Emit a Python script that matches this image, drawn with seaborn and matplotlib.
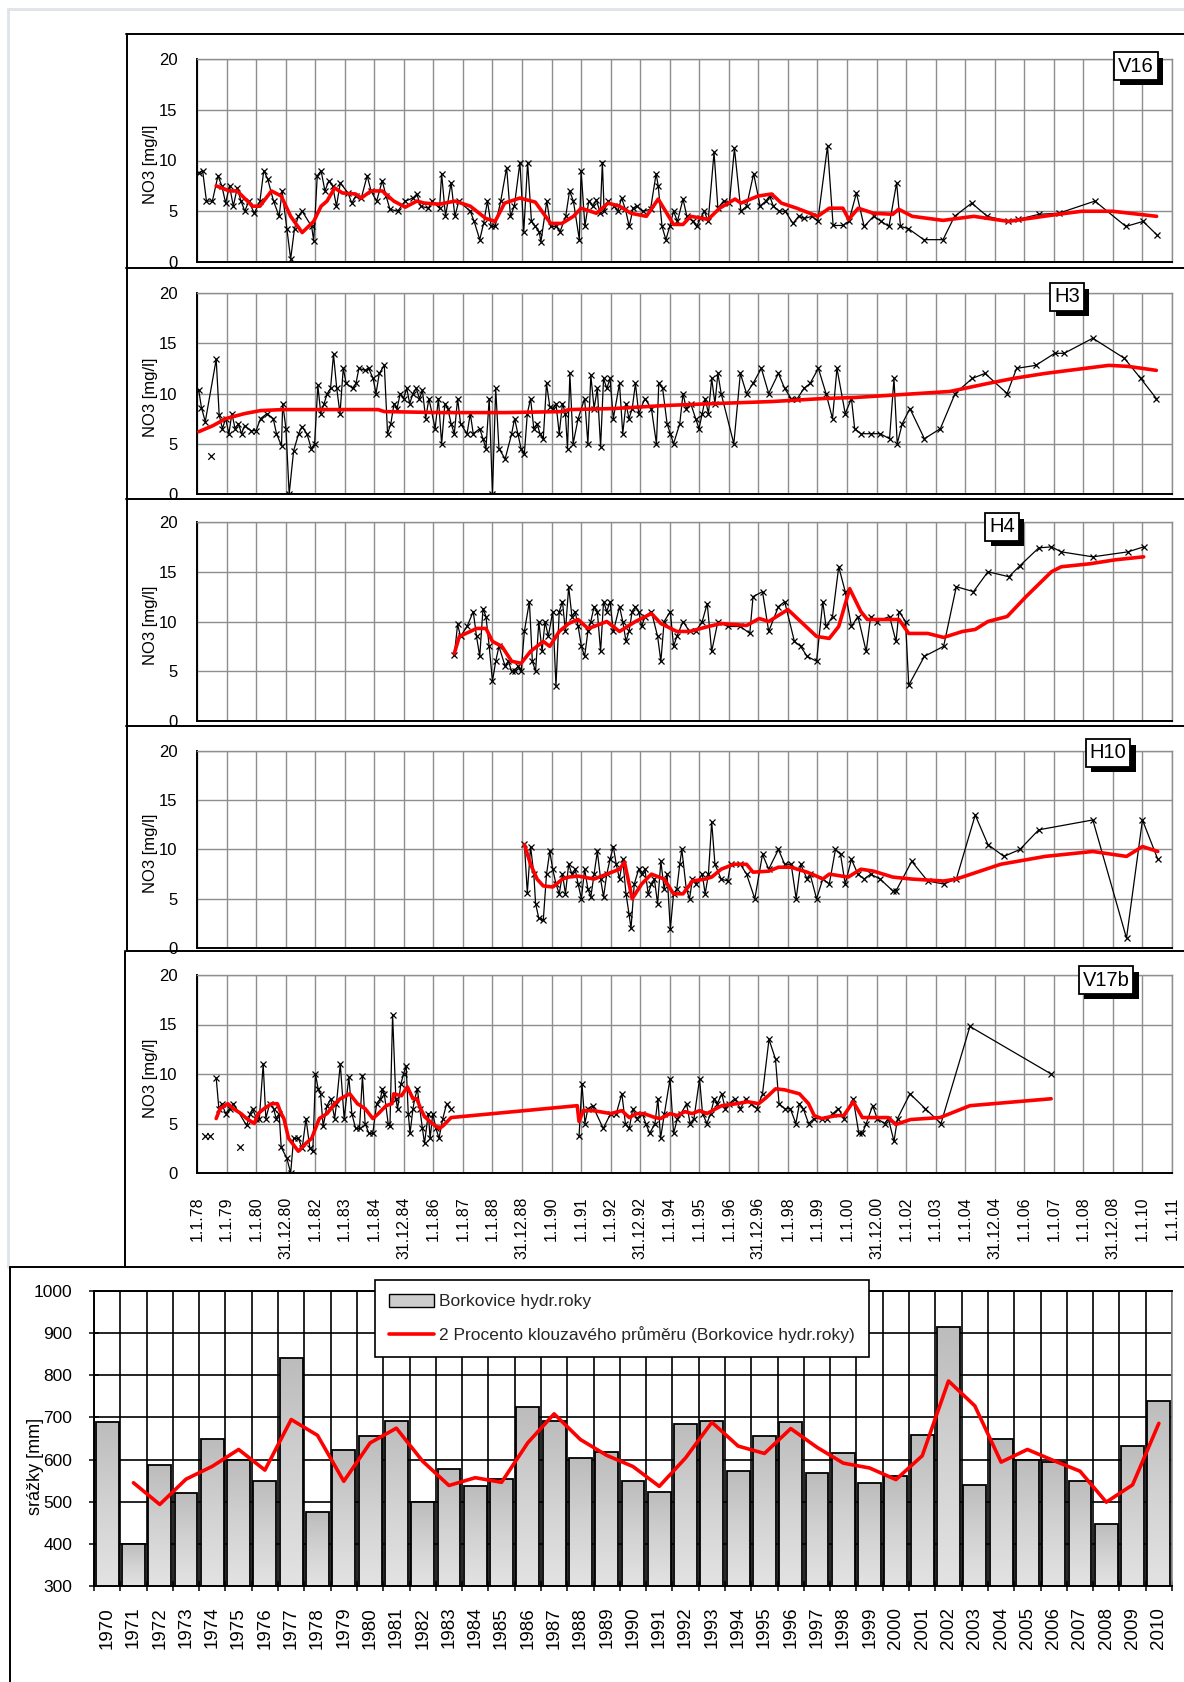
import numpy as np
import matplotlib
matplotlib.use("Agg")
import matplotlib.pyplot as plt
import seaborn as sns
from matplotlib.lines import Line2D
from matplotlib.patches import Patch
from matplotlib.colors import LinearSegmentedColormap
import matplotlib.patheffects as pe

# ---------------- data ----------------
tick_years = list(range(1978, 2012))
date_labels = ["1.1.78", "1.1.79", "1.1.80", "31.12.80", "1.1.82", "1.1.83", "1.1.84", "31.12.84",
               "1.1.86", "1.1.87", "1.1.88", "31.12.88", "1.1.90", "1.1.91", "1.1.92", "31.12.92",
               "1.1.94", "1.1.95", "1.1.96", "31.12.96", "1.1.98", "1.1.99", "1.1.00", "31.12.00",
               "1.1.02", "1.1.03", "1.1.04", "31.12.04", "1.1.06", "1.1.07", "1.1.08", "31.12.08",
               "1.1.10", "1.1.11"]

v16_t = [1978.06, 1978.19, 1978.32, 1978.52, 1978.71, 1978.84, 1978.97, 1979.10, 1979.23, 1979.36,
         1979.49, 1979.62, 1979.75, 1979.94, 1980.13, 1980.26, 1980.39, 1980.59, 1980.78, 1980.88,
         1981.04, 1981.17, 1981.30, 1981.43, 1981.56, 1981.88, 1981.95, 1982.07, 1982.20, 1982.33,
         1982.46, 1982.59, 1982.72, 1982.85, 1983.11, 1983.24, 1983.37, 1983.56, 1983.76, 1983.89,
         1984.08, 1984.27, 1984.40, 1984.53, 1984.79, 1985.05, 1985.31, 1985.44, 1985.57, 1985.83,
         1985.96, 1986.21, 1986.28, 1986.41, 1986.60, 1986.73, 1986.86, 1987.25, 1987.38, 1987.57,
         1987.70, 1987.83, 1987.96, 1988.09, 1988.28, 1988.48, 1988.61, 1988.74, 1988.93, 1989.06,
         1989.19, 1989.32, 1989.45, 1989.58, 1989.64, 1989.84, 1989.97, 1990.16, 1990.29, 1990.48,
         1990.61, 1990.74, 1990.94, 1991.00, 1991.13, 1991.26, 1991.39, 1991.52, 1991.65, 1991.72,
         1991.78, 1991.91, 1992.11, 1992.24, 1992.37, 1992.50, 1992.63, 1992.76, 1992.89, 1993.08,
         1993.35, 1993.54, 1993.61, 1993.74, 1993.87, 1994.00, 1994.13, 1994.26, 1994.45, 1994.58,
         1994.78, 1994.91, 1995.04, 1995.17, 1995.30, 1995.50, 1995.63, 1995.82, 1996.02, 1996.19,
         1996.41, 1996.60, 1996.84, 1997.06, 1997.25, 1997.38, 1997.51, 1997.71, 1997.91, 1998.17,
         1998.36, 1998.56, 1998.82, 1999.01, 1999.34, 1999.53, 1999.86, 2000.06, 2000.32, 2000.58,
         2000.90, 2001.16, 2001.42, 2001.68, 2001.81, 2002.07, 2002.60, 2003.25, 2003.64, 2004.22,
         2004.75, 2005.46, 2005.79, 2006.50, 2007.16, 2008.39, 2009.44, 2010.02, 2010.48]
v16_no3 = [8.8, 9.0, 6.0, 6.0, 8.5, 7.5, 5.8, 7.5, 5.5, 7.3,
           6.0, 5.0, 6.0, 4.8, 6.0, 9.0, 8.2, 6.0, 4.5, 7.0,
           3.3, 0.3, 3.3, 4.5, 5.0, 3.5, 2.1, 8.5, 9.0, 7.0,
           8.0, 7.5, 5.5, 7.8, 6.8, 5.8, 6.5, 6.3, 8.5, 7.0,
           6.0, 8.0, 6.5, 5.2, 5.0, 6.0, 6.3, 6.7, 5.5, 5.3,
           6.0, 5.3, 8.7, 4.5, 7.8, 4.5, 6.0, 5.0, 4.0, 2.2,
           3.8, 6.0, 3.5, 3.5, 6.0, 9.3, 4.5, 5.5, 9.8, 3.0,
           9.8, 4.0, 3.5, 3.0, 2.0, 6.0, 3.5, 3.5, 3.0, 4.5,
           7.0, 6.0, 2.2, 9.0, 3.5, 6.0, 5.5, 6.1, 4.8, 9.8,
           5.0, 6.0, 5.5, 5.0, 6.3, 5.2, 3.5, 5.3, 5.5, 5.0,
           5.2, 8.7, 7.5, 3.5, 2.2, 3.5, 5.0, 4.0, 6.2, 4.5,
           4.0, 3.5, 4.3, 5.0, 4.0, 10.8, 5.3, 6.0, 5.8, 11.2,
           5.0, 5.5, 8.7, 5.5, 6.0, 6.5, 5.5, 5.0, 5.0, 3.8,
           4.5, 4.3, 4.5, 4.0, 11.4, 3.6, 3.6, 4.0, 6.8, 3.5,
           4.5, 4.0, 3.5, 7.8, 3.5, 3.3, 2.2, 2.2, 4.5, 5.8,
           4.5, 4.0, 4.2, 4.7, 4.8, 6.0, 3.5, 4.0, 2.7]
v16_avg_t = [1978.65, 1979.10, 1979.36, 1979.88, 1980.13, 1980.52, 1980.85, 1981.17, 1981.56, 1981.95,
             1982.20, 1982.40, 1982.66, 1982.92, 1983.37, 1983.56, 1983.89, 1984.27, 1984.66, 1985.05,
             1985.44, 1985.70, 1986.21, 1986.73, 1987.25, 1987.77, 1988.09, 1988.41, 1988.93, 1989.45,
             1989.97, 1990.35, 1990.74, 1991.00, 1991.52, 1991.91, 1992.30, 1992.69, 1993.21, 1993.61,
             1994.13, 1994.45, 1994.71, 1995.30, 1995.69, 1996.21, 1996.41, 1996.99, 1997.45, 1997.78,
             1998.30, 1999.01, 1999.40, 1999.86, 2000.06, 2000.38, 2000.90, 2001.55, 2001.75, 2002.21,
             2003.25, 2004.29, 2005.46, 2006.90, 2007.94, 2008.98, 2010.48]
v16_avg = [7.5, 7.0, 7.0, 5.5, 5.5, 7.0, 6.5, 4.5, 2.9, 4.0,
           5.5, 6.0, 7.3, 6.8, 6.7, 6.3, 7.0, 7.0, 6.0, 5.4,
           6.0, 5.8, 5.7, 6.0, 5.5, 4.3, 4.0, 5.8, 6.3, 5.9,
           3.8, 3.8, 4.5, 5.3, 4.8, 5.8, 5.5, 4.8, 4.5, 6.2,
           3.7, 3.7, 4.5, 4.2, 5.3, 6.2, 5.8, 6.5, 6.7, 5.8,
           5.3, 4.5, 5.3, 5.3, 4.2, 5.3, 4.8, 4.7, 5.2, 4.5,
           4.1, 4.5, 4.0, 4.6, 5.0, 5.0, 4.5]

h3_t = [1978.06, 1978.15, 1978.28, 1978.65, 1978.75, 1978.86, 1978.97, 1979.08, 1979.18, 1979.29,
        1979.40, 1979.51, 1979.61, 1979.83, 1980.00, 1980.15, 1980.37, 1980.58, 1980.69, 1980.86,
        1980.90, 1981.01, 1981.12, 1981.27, 1981.44, 1981.55, 1981.72, 1981.87, 1981.98, 1982.09,
        1982.19, 1982.30, 1982.41, 1982.52, 1982.62, 1982.73, 1982.84, 1982.95, 1983.05, 1983.27,
        1983.38, 1983.48, 1983.70, 1983.81, 1983.96, 1984.06, 1984.17, 1984.34, 1984.45, 1984.56,
        1984.67, 1984.77, 1984.88, 1984.99, 1985.10, 1985.20, 1985.31, 1985.42, 1985.53, 1985.63,
        1985.74, 1985.85, 1986.06, 1986.17, 1986.28, 1986.39, 1986.49, 1986.60, 1986.71, 1986.82,
        1986.92, 1987.14, 1987.25, 1987.35, 1987.57, 1987.68, 1987.78, 1987.89, 1988.00, 1988.11,
        1988.22, 1988.43, 1988.65, 1988.75, 1988.86, 1988.97, 1989.08, 1989.18, 1989.29, 1989.40,
        1989.51, 1989.61, 1989.72, 1989.83, 1989.94, 1990.04, 1990.15, 1990.26, 1990.37, 1990.47,
        1990.54, 1990.62, 1990.73, 1990.90, 1991.12, 1991.23, 1991.33, 1991.44, 1991.55, 1991.66,
        1991.76, 1991.87, 1991.98, 1992.09, 1992.30, 1992.41, 1992.52, 1992.62, 1992.73, 1992.84,
        1992.95, 1993.16, 1993.38, 1993.55, 1993.63, 1993.76, 1993.91, 1994.02, 1994.13, 1994.34,
        1994.45, 1994.56, 1994.71, 1994.88, 1994.99, 1995.10, 1995.20, 1995.31, 1995.42, 1995.53,
        1995.63, 1995.74, 1996.17, 1996.39, 1996.60, 1996.82, 1997.10, 1997.35, 1997.68, 1997.89,
        1998.11, 1998.32, 1998.54, 1998.75, 1999.03, 1999.29, 1999.51, 1999.66, 1999.94, 2000.15,
        2000.26, 2000.47, 2000.80, 2001.12, 2001.44, 2001.59, 2001.70, 2001.87, 2002.13, 2002.62,
        2003.16, 2003.66, 2004.24, 2004.67, 2005.42, 2005.74, 2006.39, 2007.03, 2007.35, 2008.32,
        2009.39, 2009.94, 2010.47]
h3_no3 = [10.3, 8.6, 7.2, 13.4, 7.9, 6.5, 7.5, 6.0, 8.0, 6.5,
          7.0, 6.0, 6.8, 6.3, 6.3, 7.5, 8.0, 7.5, 6.0, 4.8,
          9.0, 6.5, 0.0, 4.3, 6.0, 6.7, 6.0, 4.5, 5.0, 10.8,
          8.0, 9.0, 10.0, 10.5, 13.9, 10.5, 8.0, 12.5, 11.0, 10.5,
          11.0, 12.5, 12.3, 12.5, 11.5, 10.0, 12.0, 12.8, 6.0, 7.0,
          9.0, 8.5, 10.0, 9.5, 10.5, 9.0, 10.0, 10.5, 9.5, 10.3,
          7.5, 9.5, 6.5, 9.5, 5.0, 9.0, 8.5, 7.0, 6.0, 9.5,
          7.0, 6.0, 8.0, 6.0, 6.5, 5.5, 4.5, 9.5, 0.0, 10.5,
          4.5, 3.5, 6.0, 7.5, 6.0, 4.5, 4.0, 8.0, 9.5, 6.5,
          7.0, 6.0, 5.5, 11.0, 8.7, 8.5, 9.0, 6.0, 9.0, 8.0,
          4.5, 12.0, 5.0, 7.5, 9.5, 5.0, 11.8, 8.5, 10.5, 4.7,
          11.5, 10.5, 11.5, 7.5, 11.0, 6.0, 9.0, 7.5, 8.5, 11.0,
          8.0, 9.5, 8.5, 5.0, 11.0, 10.5, 7.0, 6.0, 5.0, 7.0,
          10.0, 8.5, 9.0, 7.5, 6.5, 8.0, 9.5, 8.0, 11.5, 9.0,
          12.0, 10.0, 5.0, 12.0, 10.0, 11.0, 12.5, 10.0, 12.0, 10.5,
          9.5, 9.5, 10.5, 11.0, 12.5, 10.0, 7.5, 12.5, 8.0, 9.5,
          6.5, 6.0, 6.0, 6.0, 5.5, 11.5, 5.0, 7.0, 8.5, 5.5,
          6.5, 10.0, 11.5, 12.0, 10.0, 12.5, 12.8, 14.0, 14.0, 15.5,
          13.5, 11.5, 9.5]
h3_single_t = [1978.49]
h3_single = [3.8]
h3_avg_t = [1978.06, 1978.54, 1978.97, 1979.61, 1980.15, 1980.90, 1981.98, 1984.13, 1984.34, 1986.28,
            1988.43, 1990.37, 1990.58, 1992.09, 1993.81, 1995.53, 1997.46, 1999.18, 2000.26, 2001.34,
            2003.48, 2004.77, 2005.63, 2006.71, 2007.78, 2008.86, 2009.51, 2010.47]
h3_avg = [6.2, 6.8, 7.5, 8.0, 8.3, 8.4, 8.4, 8.4, 8.2, 8.1,
          8.1, 8.2, 8.4, 8.5, 8.8, 9.0, 9.2, 9.5, 9.6, 9.8,
          10.2, 11.0, 11.5, 12.0, 12.4, 12.8, 12.7, 12.3]

h4_t = [1986.71, 1986.82, 1986.92, 1987.14, 1987.35, 1987.46, 1987.57, 1987.68, 1987.78, 1987.89,
        1988.00, 1988.11, 1988.22, 1988.43, 1988.54, 1988.65, 1988.75, 1988.86, 1988.97, 1989.08,
        1989.25, 1989.35, 1989.46, 1989.57, 1989.68, 1989.78, 1989.89, 1990.04, 1990.15, 1990.26,
        1990.37, 1990.47, 1990.58, 1990.69, 1990.80, 1990.90, 1991.01, 1991.12, 1991.23, 1991.33,
        1991.44, 1991.55, 1991.66, 1991.76, 1991.87, 1991.98, 1992.09, 1992.30, 1992.41, 1992.52,
        1992.62, 1992.73, 1992.84, 1992.95, 1993.05, 1993.16, 1993.38, 1993.59, 1993.70, 1993.81,
        1994.02, 1994.13, 1994.24, 1994.45, 1994.67, 1994.88, 1995.10, 1995.27, 1995.42, 1995.63,
        1995.96, 1996.39, 1996.71, 1996.82, 1997.14, 1997.35, 1997.68, 1997.89, 1998.22, 1998.43,
        1998.65, 1998.97, 1999.18, 1999.29, 1999.51, 1999.72, 1999.94, 2000.15, 2000.37, 2000.65,
        2000.80, 2001.01, 2001.44, 2001.66, 2001.76, 2001.98, 2002.09, 2002.62, 2003.27, 2003.70,
        2004.28, 2004.77, 2005.48, 2005.85, 2006.49, 2006.92, 2007.25, 2008.32, 2009.51, 2010.04]
h4_no3 = [6.6, 9.7, 8.5, 9.5, 11.0, 8.5, 6.5, 11.3, 10.5, 7.5,
          4.0, 6.0, 7.5, 5.5, 6.0, 5.0, 5.0, 5.5, 5.0, 9.0,
          12.0, 6.0, 5.0, 10.0, 7.0, 10.0, 8.5, 11.0, 3.5, 11.0,
          12.0, 9.0, 13.5, 10.5, 11.0, 9.5, 7.5, 6.5, 9.0, 10.0,
          11.5, 11.0, 7.0, 12.0, 11.0, 12.0, 9.0, 11.5, 10.0, 8.0,
          9.0, 11.0, 11.5, 11.0, 9.5, 10.5, 11.0, 8.5, 6.0, 10.0,
          11.0, 7.5, 8.5, 10.0, 9.0, 9.0, 10.0, 11.8, 7.0, 10.0,
          9.5, 9.5, 8.8, 12.5, 13.0, 9.0, 11.5, 12.0, 8.0, 7.5,
          6.5, 6.0, 12.0, 9.5, 10.5, 15.5, 13.0, 9.5, 10.5, 7.0,
          10.5, 10.0, 10.5, 8.0, 11.0, 10.0, 3.6, 6.5, 7.5, 13.5,
          13.0, 15.0, 14.5, 15.6, 17.4, 17.5, 17.0, 16.5, 17.0, 17.5]
h4_avg_t = [1986.71, 1986.88, 1987.25, 1987.46, 1987.78, 1988.00, 1988.32, 1988.65, 1988.97, 1989.29,
            1989.72, 1989.94, 1990.26, 1990.58, 1990.90, 1991.23, 1991.44, 1991.87, 1992.30, 1992.84,
            1993.38, 1993.70, 1994.24, 1994.67, 1995.31, 1995.74, 1996.60, 1997.03, 1997.35, 1998.00,
            1998.43, 1998.97, 1999.40, 1999.72, 2000.09, 2000.47, 2000.69, 2001.76, 2002.09, 2002.73,
            2003.27, 2003.91, 2004.34, 2004.77, 2005.42, 2006.06, 2006.92, 2007.25, 2008.22, 2009.08,
            2010.04]
h4_avg = [6.8, 8.5, 9.0, 9.3, 9.3, 8.0, 7.5, 6.0, 5.8, 7.0,
          8.0, 7.5, 9.0, 9.8, 10.2, 9.3, 9.5, 10.0, 9.0, 10.0,
          10.8, 9.8, 9.0, 9.0, 9.5, 9.8, 9.6, 10.3, 10.0, 11.2,
          10.0, 8.5, 8.3, 9.5, 13.3, 11.0, 10.2, 10.2, 8.8, 8.8,
          8.4, 9.0, 9.2, 10.0, 10.5, 12.5, 15.0, 15.5, 15.8, 16.2,
          16.5]

h10_t = [1989.08, 1989.18, 1989.29, 1989.40, 1989.46, 1989.57, 1989.72, 1989.83, 1989.94, 1990.04,
         1990.15, 1990.26, 1990.37, 1990.47, 1990.58, 1990.69, 1990.80, 1990.90, 1991.01, 1991.12,
         1991.23, 1991.33, 1991.44, 1991.55, 1991.66, 1991.76, 1991.87, 1991.98, 1992.09, 1992.19,
         1992.30, 1992.41, 1992.52, 1992.62, 1992.69, 1992.80, 1992.95, 1993.05, 1993.16, 1993.27,
         1993.38, 1993.48, 1993.59, 1993.70, 1993.81, 1993.91, 1994.02, 1994.13, 1994.24, 1994.34,
         1994.41, 1994.56, 1994.67, 1994.77, 1994.88, 1995.10, 1995.20, 1995.31, 1995.42, 1995.53,
         1995.74, 1995.96, 1996.06, 1996.39, 1996.60, 1996.88, 1997.14, 1997.35, 1997.68, 1997.89,
         1998.11, 1998.28, 1998.43, 1998.65, 1998.75, 1998.97, 1999.18, 1999.40, 1999.61, 1999.78,
         1999.94, 2000.15, 2000.37, 2000.58, 2000.80, 2001.12, 2001.55, 2001.66, 2002.19, 2002.73,
         2003.27, 2003.70, 2004.34, 2004.77, 2005.31, 2005.85, 2006.49, 2008.32, 2009.46, 2010.00,
         2010.52]
h10_no3 = [10.6, 5.6, 10.3, 7.5, 4.5, 3.0, 2.8, 7.5, 9.8, 8.0,
           6.5, 5.5, 7.5, 5.5, 8.5, 7.5, 8.0, 6.5, 5.0, 8.0,
           6.0, 5.2, 7.5, 9.8, 7.0, 5.2, 7.5, 9.0, 10.3, 8.5,
           7.0, 9.0, 5.5, 3.5, 2.0, 6.5, 8.0, 7.5, 8.0, 5.5,
           6.5, 7.0, 4.5, 8.8, 6.0, 7.5, 1.9, 5.5, 6.0, 8.5,
           10.0, 6.0, 5.0, 7.0, 6.5, 7.5, 5.5, 7.5, 12.8, 8.5,
           7.0, 6.8, 8.5, 8.5, 7.5, 5.0, 9.5, 8.0, 10.0, 8.5,
           8.5, 5.0, 8.5, 7.0, 7.5, 5.0, 7.0, 6.5, 10.0, 9.5,
           6.5, 9.0, 7.5, 7.0, 7.5, 7.0, 5.8, 5.8, 8.8, 6.8,
           6.5, 7.0, 13.5, 10.5, 9.3, 10.0, 12.0, 13.0, 1.0, 13.0,
           9.0]
h10_avg_t = [1989.08, 1989.29, 1989.51, 1989.72, 1990.04, 1990.37, 1990.58, 1990.90, 1991.44, 1991.87,
             1992.30, 1992.47, 1992.73, 1993.05, 1993.38, 1993.81, 1994.13, 1994.45, 1994.77, 1995.20,
             1995.42, 1995.74, 1996.17, 1996.60, 1996.82, 1997.35, 1997.68, 1998.11, 1998.32, 1998.65,
             1998.97, 1999.18, 1999.40, 2000.04, 2000.47, 2000.90, 2001.55, 2002.19, 2003.27, 2003.70,
             2005.20, 2006.71, 2008.32, 2009.46, 2010.00, 2010.52]
h10_avg = [10.5, 8.5, 7.0, 6.3, 6.2, 7.0, 7.2, 7.3, 7.0, 7.5,
           8.0, 8.7, 5.0, 6.5, 7.5, 7.0, 5.5, 5.5, 6.8, 7.0,
           7.2, 8.0, 8.5, 8.5, 7.7, 7.8, 8.2, 8.2, 8.0, 7.7,
           7.3, 7.0, 7.5, 7.2, 8.0, 7.8, 7.2, 7.0, 6.8, 7.0,
           8.5, 9.3, 9.8, 9.3, 10.3, 9.8]

v17_t_a = [1978.65, 1978.74, 1978.84, 1978.97, 1979.10, 1979.23, 1979.68, 1979.81, 1979.88, 1980.01,
           1980.11, 1980.24, 1980.33, 1980.46, 1980.59, 1980.68, 1980.78, 1980.85, 1981.04, 1981.17,
           1981.27, 1981.43, 1981.56, 1981.69, 1981.82, 1981.92, 1982.01, 1982.10, 1982.18, 1982.27,
           1982.40, 1982.53, 1982.66, 1982.72, 1982.85, 1982.98, 1983.14, 1983.24, 1983.37, 1983.50,
           1983.60, 1983.69, 1983.82, 1983.95, 1984.08, 1984.21, 1984.27, 1984.34, 1984.47, 1984.53,
           1984.62, 1984.73, 1984.79, 1984.90, 1984.99, 1985.08, 1985.15, 1985.21, 1985.31, 1985.37,
           1985.46, 1985.54, 1985.63, 1985.70, 1985.83, 1985.89, 1985.98, 1986.09, 1986.19, 1986.32,
           1986.45, 1986.58]
v17_no3_a = [9.6, 6.5, 7.0, 6.0, 6.5, 7.0, 4.8, 6.0, 6.5, 5.5,
             5.5, 11.0, 5.5, 7.0, 6.5, 5.5, 6.0, 2.6, 1.5, 0.0,
             3.5, 3.5, 2.5, 5.5, 2.5, 2.2, 10.0, 8.5, 8.0, 4.7,
             6.8, 7.5, 5.5, 7.0, 11.0, 5.5, 9.7, 6.0, 4.5, 4.5,
             9.8, 5.0, 4.0, 4.0, 7.0, 7.5, 8.5, 8.0, 5.0, 4.7,
             16.0, 7.5, 6.5, 9.0, 10.0, 10.8, 6.0, 4.0, 6.5, 7.5,
             8.5, 6.5, 4.5, 3.0, 6.0, 3.5, 6.0, 4.5, 3.5, 5.5,
             7.0, 6.5]
v17_t_b = [1990.93, 1991.03, 1991.13, 1991.23, 1991.39, 1991.75, 1992.00, 1992.19, 1992.38, 1992.50,
           1992.63, 1992.75, 1992.88, 1993.07, 1993.19, 1993.32, 1993.50, 1993.60, 1993.69, 1993.82,
           1994.01, 1994.13, 1994.26, 1994.38, 1994.57, 1994.69, 1994.82, 1995.01, 1995.11, 1995.26,
           1995.38, 1995.51, 1995.61, 1995.76, 1995.88, 1996.01, 1996.20, 1996.39, 1996.57, 1996.76,
           1996.95, 1997.14, 1997.36, 1997.58, 1997.70, 1997.89, 1998.08, 1998.27, 1998.39, 1998.52,
           1998.70, 1998.89, 1999.14, 1999.33, 1999.52, 1999.71, 1999.89, 2000.21, 2000.40, 2000.52,
           2000.65, 2000.87, 2001.02, 2001.27, 2001.40, 2001.59, 2001.71, 2002.13, 2002.65, 2003.18,
           2004.16, 2006.91]
v17_no3_b = [3.7, 9.0, 5.0, 6.5, 6.8, 4.5, 6.0, 6.0, 8.0, 5.0,
             4.5, 6.5, 5.5, 6.0, 5.0, 4.0, 5.0, 7.5, 3.5, 6.0,
             9.5, 4.0, 5.5, 6.0, 7.0, 5.0, 5.5, 9.5, 6.0, 5.0,
             6.0, 7.5, 7.0, 8.0, 6.5, 7.0, 7.5, 6.5, 7.5, 7.0,
             6.5, 8.0, 13.5, 11.5, 7.0, 6.5, 6.5, 5.0, 7.0, 6.5,
             5.0, 5.5, 5.5, 5.5, 6.0, 6.5, 5.5, 7.5, 4.0, 4.0,
             5.0, 6.8, 5.5, 5.0, 5.5, 3.2, 5.5, 8.0, 6.5, 5.0,
             14.8, 10.0]
v17_single_t = [1978.26, 1978.45, 1979.46]
v17_single = [3.7, 3.7, 2.6]
v17_avg_t = [1978.65, 1978.78, 1979.04, 1979.23, 1979.49, 1979.68, 1979.94, 1980.07, 1980.27, 1980.53,
             1980.72, 1980.85, 1980.94, 1981.10, 1981.43, 1981.69, 1981.88, 1982.01, 1982.14, 1982.40,
             1982.66, 1982.85, 1983.17, 1983.43, 1983.69, 1983.95, 1984.14, 1984.40, 1984.60, 1984.66,
             1984.92, 1985.12, 1985.31, 1985.44, 1985.57, 1985.70, 1985.96, 1986.21, 1986.34, 1986.60,
             1990.87, 1990.93, 1991.07, 1991.39, 1991.62, 1992.00, 1992.38, 1992.63, 1992.88, 1993.13,
             1993.50, 1993.69, 1994.01, 1994.26, 1994.51, 1994.76, 1995.01, 1995.26, 1995.63, 1995.76,
             1996.26, 1996.64, 1997.01, 1997.26, 1997.58, 1997.89, 1998.39, 1998.70, 1998.89, 1999.14,
             1999.64, 1999.89, 2000.21, 2000.52, 2001.40, 2001.65, 2002.15, 2003.15, 2004.16, 2006.91]
v17_avg = [5.5, 6.5, 7.0, 6.5, 6.0, 5.5, 5.0, 6.0, 6.5, 7.0,
           7.0, 6.0, 5.5, 3.5, 2.2, 3.0, 3.5, 4.5, 5.5, 6.0,
           7.0, 7.5, 8.0, 7.0, 6.5, 5.5, 6.0, 6.8, 7.0, 8.0,
           7.8, 8.7, 7.5, 7.5, 6.5, 5.7, 5.0, 4.5, 4.8, 5.6,
           6.8, 5.2, 6.3, 6.3, 6.2, 6.0, 6.3, 5.6, 6.0, 6.0,
           5.6, 5.5, 6.0, 5.8, 6.2, 6.0, 6.3, 6.0, 6.6, 6.8,
           7.0, 7.2, 7.0, 7.6, 8.5, 8.4, 8.0, 7.0, 5.8, 5.5,
           5.8, 5.8, 7.2, 5.6, 5.6, 4.9, 5.4, 5.6, 6.8, 7.5]

rain_years = list(range(1970, 2011))
rain_mm = [690, 400, 587, 520, 648, 600, 550, 840, 475, 622,
           657, 692, 500, 577, 537, 555, 725, 692, 603, 617,
           550, 523, 685, 692, 572, 657, 690, 568, 615, 545,
           560, 658, 915, 540, 648, 600, 595, 550, 448, 632,
           740]
ma_years = list(range(1971, 2011))
ma_mm = [545, 493.5, 553.5, 584, 624, 575, 695, 657.5, 548.5, 639.5,
         674.5, 596, 538.5, 557, 546, 640, 708.5, 647.5, 610, 583.5,
         536.5, 604, 688.5, 632, 614.5, 673.5, 629, 591.5, 580, 552.5,
         609, 786.5, 727.5, 594, 624, 597.5, 572.5, 499, 540, 686]

# ---------------- style ----------------
sns.set_theme(style="white")
plt.rcParams["font.family"] = ["Liberation Sans", "DejaVu Sans"]
plt.rcParams["axes.linewidth"] = 1.2

W, H = 1184, 1682
fig = plt.figure(figsize=(W / 100, H / 100), dpi=100)
fig.patch.set_facecolor("white")


def rect(l, t, r, b):
    return [l / W, 1 - b / H, (r - l) / W, (b - t) / H]


def fx(x):
    return x / W


def fy(y):
    return 1 - y / H


GRID = "#8e8e8e"
RED = "#ff0000"

panels = [
    dict(name="V16", top=59, bot=262, box=(1136, 66),
         black=[(v16_t, v16_no3)], single=None, avg=(v16_avg_t, v16_avg)),
    dict(name="H3", top=293, bot=494, box=(1067, 297),
         black=[(h3_t, h3_no3)], single=(h3_single_t, h3_single), avg=(h3_avg_t, h3_avg)),
    dict(name="H4", top=522, bot=721, box=(1002, 527),
         black=[(h4_t, h4_no3)], single=None, avg=(h4_avg_t, h4_avg)),
    dict(name="H10", top=751, bot=948, box=(1108, 753),
         black=[(h10_t, h10_no3)], single=None, avg=(h10_avg_t, h10_avg)),
    dict(name="V17b", top=975, bot=1173, box=(1106, 980),
         black=[(v17_t_a, v17_no3_a), (v17_t_b, v17_no3_b)],
         single=(v17_single_t, v17_single), avg=(v17_avg_t, v17_avg)),
]

for i, p in enumerate(panels):
    ax = fig.add_axes(rect(197, p["top"], 1172, p["bot"]))
    ax.set_facecolor("white")
    for t, v in p["black"]:
        sns.lineplot(x=t, y=v, ax=ax, color="black", lw=0.9, marker="x", markersize=4.5,
                     markeredgewidth=0.9, markeredgecolor="black", estimator=None, sort=False,
                     zorder=3)
    if p["single"] is not None:
        sns.scatterplot(x=p["single"][0], y=p["single"][1], ax=ax, marker="x", color="black",
                        s=22, linewidth=0.9, zorder=3)
    sns.lineplot(x=p["avg"][0], y=p["avg"][1], ax=ax, color=RED, lw=2.6,
                 estimator=None, sort=False, zorder=4)
    ax.set_xlim(1978, 2011)
    ax.set_ylim(0, 20)
    ax.set_xticks(tick_years)
    ax.set_yticks([0, 5, 10, 15, 20])
    ax.grid(True, color=GRID, lw=1.0)
    ax.set_axisbelow(True)
    for s in ["top", "right"]:
        ax.spines[s].set_color(GRID)
        ax.spines[s].set_linewidth(1.0)
    for s in ["left", "bottom"]:
        ax.spines[s].set_color("black")
        ax.spines[s].set_linewidth(1.4)
    ax.tick_params(axis="both", which="major", direction="inout", length=6, width=1.1,
                   color="black", labelcolor="black")
    ax.tick_params(axis="y", labelsize=12, pad=11)
    ax.set_xlabel("")
    ax.set_ylabel("")
    if i == len(panels) - 1:
        ax.set_xticklabels(date_labels, rotation=90, fontsize=11.5)
        ax.tick_params(axis="x", pad=14)
    else:
        ax.set_xticklabels([])
    fig.text(fx(150), fy((p["top"] + p["bot"]) / 2 + 4), "NO3 [mg/l]", rotation=90,
             ha="center", va="center", fontsize=12, color="black")
    bx, by = p["box"]
    txt = fig.text(fx(bx), fy(by), p["name"], ha="center", va="center", fontsize=14.5,
                   color="black", zorder=10,
                   bbox=dict(boxstyle="square,pad=0.2", fc="white", ec="black", lw=1.3))
    txt.get_bbox_patch().set_path_effects([
        pe.SimplePatchShadow(offset=(4, -4), shadow_rgbFace="black", alpha=1.0),
        pe.Normal()])

# ---------------- precipitation chart ----------------
axb = fig.add_axes(rect(94, 1291, 1172, 1586))
axb.set_facecolor("white")
sns.barplot(x=rain_years, y=rain_mm, ax=axb, native_scale=True, color="#cccccc",
            edgecolor="black", linewidth=1.3, width=0.87, saturation=1, zorder=2)

cmap = LinearSegmentedColormap.from_list("barg", ["#e3e3e3", "#d2d2d2", "#bcbcbc"])
grad = np.linspace(0, 1, 256).reshape(-1, 1)
for patch in list(axb.patches):
    x0, w, h = patch.get_x(), patch.get_width(), patch.get_height()
    im = axb.imshow(grad, extent=[x0, x0 + w, 300, h], origin="lower", cmap=cmap,
                    aspect="auto", zorder=1.5, interpolation="bilinear")
    im.set_clip_path(patch)
    patch.set_facecolor("none")

sns.lineplot(x=ma_years, y=ma_mm, ax=axb, color=RED, lw=2.6, estimator=None, sort=False,
             zorder=4)

axb.set_xlim(rain_years[0] - 0.5, rain_years[-1] + 0.5)
axb.set_ylim(300, 1000)
axb.set_yticks(list(range(300, 1001, 100)))
axb.set_xticks(rain_years)
axb.set_xticklabels([str(y) for y in rain_years], rotation=90, fontsize=13.5)
bounds = [y + 0.5 for y in rain_years[:-1]]
axb.set_xticks([rain_years[0] - 0.5] + bounds + [rain_years[-1] + 0.5], minor=True)
axb.tick_params(axis="x", which="major", length=0, pad=15, labelcolor="black")
axb.tick_params(axis="x", which="minor", direction="inout", length=7, width=1.1, color="black",
                bottom=True)
axb.tick_params(axis="y", which="major", direction="inout", length=7, width=1.1, color="black",
                labelsize=12.5, pad=12, labelcolor="black", left=True)
axb.grid(False)
axb.grid(True, which="minor", axis="x", color="black", lw=1.2)
axb.grid(True, which="major", axis="y", color="black", lw=1.2)
axb.set_axisbelow(True)
for s in ["left", "bottom", "top"]:
    axb.spines[s].set_color("black")
    axb.spines[s].set_linewidth(1.4)
axb.spines["right"].set_color(GRID)
axb.set_xlabel("")
axb.set_ylabel("")
fig.text(fx(35), fy(1466), "srážky [mm]", rotation=90, ha="center", va="center",
         fontsize=13, color="black")

leg = fig.legend(handles=[Patch(facecolor="#cdcdcd", edgecolor="black", lw=1.0),
                          Line2D([0], [0], color=RED, lw=2.6)],
                 labels=["Borkovice hydr.roky",
                         "2 Procento klouzavého průměru (Borkovice hydr.roky)"],
                 loc="upper left", bbox_to_anchor=(fx(375), fy(1280)), frameon=True,
                 fancybox=False, edgecolor="black", facecolor="white", framealpha=1,
                 fontsize=12.5, handlelength=2.6, handleheight=0.75, labelspacing=0.95,
                 borderpad=0.8, handletextpad=0.3, borderaxespad=0)
leg.get_frame().set_linewidth(1.2)
leg.set_zorder(20)

# ---------------- frames ----------------
def fline(xs, ys, color="black", lw=1.4):
    fig.add_artist(Line2D([fx(x) for x in xs], [fy(y) for y in ys], color=color, lw=lw,
                          transform=fig.transFigure, zorder=0))

# page border (light)
fline([8, W], [9, 9], color="#dfe3ea", lw=2.0)
fline([8, 8], [9, 1267], color="#dfe3ea", lw=2.0)
# chart area frames
fline([127, 127], [34, 951])
fline([125, 125], [951, 1267])
for yy in [34, 268, 499, 726, 951]:
    fline([126, W + 5], [yy, yy])
fline([10, W + 5], [1267, 1267])
fline([10, 10], [1267, H + 5])

fig.savefig("out.png", dpi=100, facecolor="white")
